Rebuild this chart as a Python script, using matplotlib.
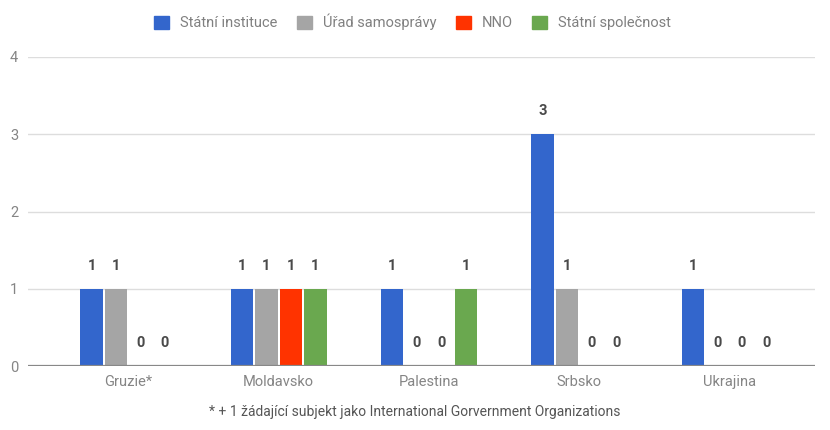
import numpy as np
import matplotlib
matplotlib.use("Agg")
import matplotlib.pyplot as plt
from matplotlib.patches import Patch

plt.rcParams["font.family"] = ["Roboto", "DejaVu Sans"]

countries = ["Gruzie*", "Moldavsko", "Palestina", "Srbsko", "Ukrajina"]
series_names = ["Státní instituce", "Úřad samosprávy", "NNO", "Státní společnost"]
statni_instituce = [1, 1, 1, 3, 1]
urad_samospravy = [1, 1, 0, 1, 0]
nno = [0, 1, 0, 0, 0]
statni_spolecnost = [0, 1, 1, 0, 0]
colors = ["#3366cc", "#a5a5a5", "#ff3300", "#6aa84f"]
footnote = "* + 1 žádající subjekt jako International Gorvernment Organizations"


def main():
    series = [statni_instituce, urad_samospravy, nno, statni_spolecnost]

    fig = plt.figure(figsize=(8.3, 4.3), dpi=100)
    ax = fig.add_axes([28 / 830, 64 / 430, 787 / 830, 309 / 430])

    x = np.arange(len(countries))
    step = 0.163
    w = 0.148
    for i, (vals, col) in enumerate(zip(series, colors)):
        pos = x + (i - 1.5) * step
        ax.bar(pos, vals, w, color=col, zorder=3)
        for px, v in zip(pos, vals):
            ax.annotate(str(v), (px, v), xytext=(0, 16.5), textcoords="offset points",
                        ha="center", va="center", fontsize=10.5, fontweight="bold",
                        color="#4a4a4a")

    ax.set_xlim(-0.667, 4.567)
    ax.set_ylim(0, 4)
    ax.set_yticks([0, 1, 2, 3, 4])
    ax.grid(axis="y", color="#dddddd", lw=1, zorder=0)
    ax.axhline(0, color="#888888", lw=1.6, zorder=4)
    for s in ax.spines.values():
        s.set_visible(False)
    ax.set_xticks(x)
    ax.set_xticklabels(countries)
    ax.tick_params(axis="both", length=0, labelsize=10.5, labelcolor="#858585")
    ax.tick_params(axis="x", pad=6.5)
    ax.tick_params(axis="y", pad=7)

    handles = [Patch(facecolor=c, edgecolor=c) for c in colors]
    fig.legend(handles, series_names, loc="center", bbox_to_anchor=(0.497, 0.949),
               ncol=4, frameon=False, fontsize=10.5, handlelength=1.0, handleheight=1.0,
               handletextpad=0.75, columnspacing=1.37, labelcolor="#808080")

    fig.text(0.5, 1 - 412 / 430, footnote, ha="center", va="center",
             fontsize=10, color="#555555")

    fig.savefig("out.png", dpi=100)
    plt.close(fig)


if __name__ == "__main__":
    main()
